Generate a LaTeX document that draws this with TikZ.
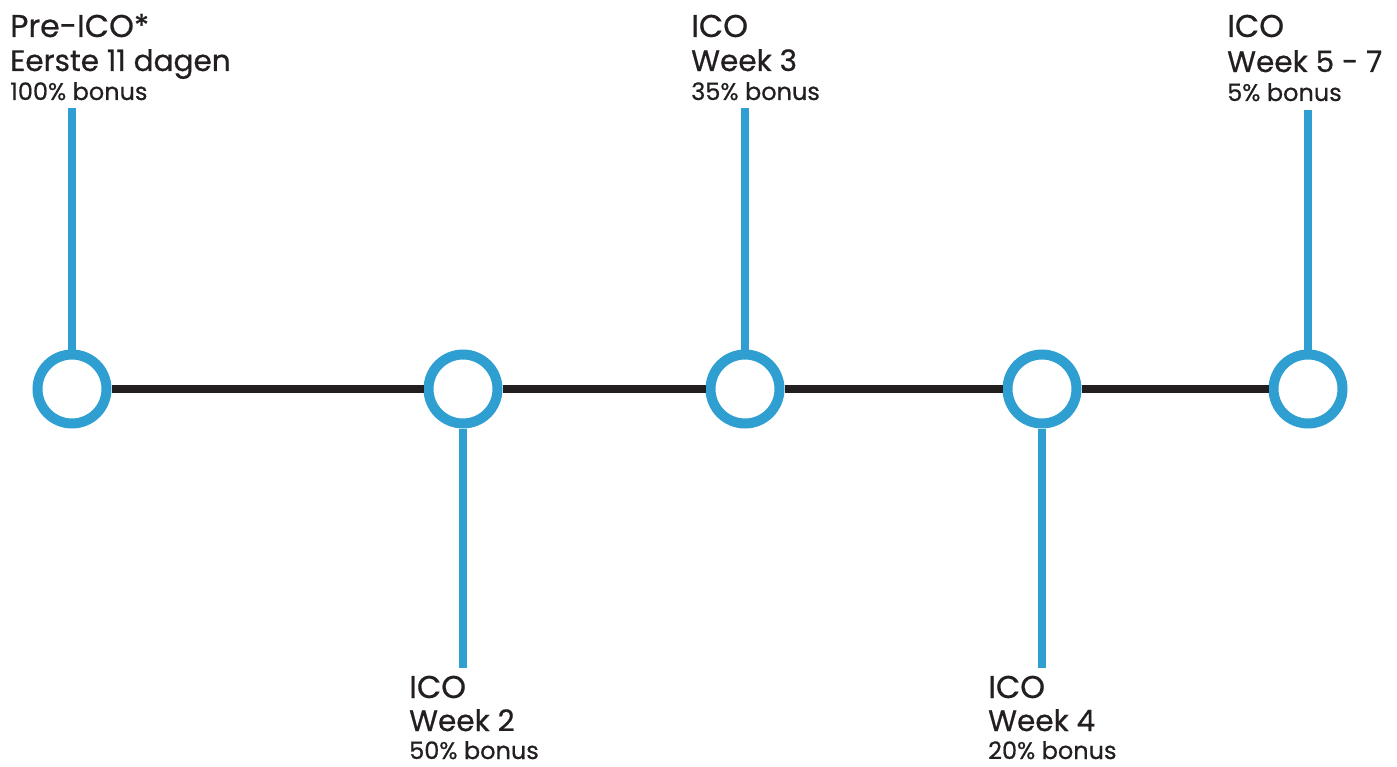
\documentclass[tikz,border=0pt]{standalone}
\usepackage{fontspec}
\setmainfont{Poppins}[FakeBold=0.6]
\definecolor{lineblue}{HTML}{2E9FD0}
\definecolor{lineblack}{HTML}{231F20}
\tikzset{
  stage/.style={circle, draw=lineblue, line width=10pt, minimum size=69pt, inner sep=0pt, fill=white},
  stem/.style={lineblue, line width=8.5pt},
  track/.style={lineblack, line width=8pt},
  head/.style={anchor=base west, inner sep=0pt, text=lineblack, font=\fontsize{31.5}{31.5}\selectfont},
  sub/.style={anchor=base west, inner sep=0pt, text=lineblack, font=\fontsize{29.5}{29.5}\selectfont},
  note/.style={anchor=base west, inner sep=0pt, text=lineblack, font=\fontsize{24}{24}\selectfont}
}
\begin{document}
\begin{tikzpicture}[x=1pt,y=-1pt]
  \useasboundingbox (0,0) rectangle (1397,767);
  % Stages
  \foreach \i/\x in {1/72,2/463,3/745,4/1042,5/1308} {
    \node[stage] (c\i) at (\x,389) {};
  }
  % Timeline
  \foreach \i/\j in {1/2,2/3,3/4,4/5} {
    \draw[track] (c\i) -- (c\j);
  }
  % Stems
  \coordinate (t1) at (72,108);
  \coordinate (t2) at (463,668);
  \coordinate (t3) at (745,108);
  \coordinate (t4) at (1042,668);
  \coordinate (t5) at (1308,110);
  \foreach \i in {1,3,5} {
    \draw[stem] (t\i) -- (c\i.north);
  }
  \foreach \i in {2,4} {
    \draw[stem] (t\i) -- (c\i.south);
  }
  % Labels
  \node[head] (h1) at (10,37) {Pre-ICO*};
  \node[sub] (s1) at (10,71) {Eerste 11 dagen};
  \node[note] (n1) at (10,100) {100\% bonus};
  \node[head] (h2) at (409,698) {ICO};
  \node[sub] (s2) at (409,731) {Week 2};
  \node[note] (n2) at (409,759) {50\% bonus};
  \node[head] (h3) at (691,37) {ICO};
  \node[sub] (s3) at (691,71) {Week 3};
  \node[note] (n3) at (691,100) {35\% bonus};
  \node[head] (h4) at (988,698) {ICO};
  \node[sub] (s4) at (988,731) {Week 4};
  \node[note] (n4) at (988,759) {20\% bonus};
  \node[head] (h5) at (1227,37) {ICO};
  \node[sub] (s5) at (1227,72) {Week 5 - 7};
  \node[note] (n5) at (1227,101) {5\% bonus};
\end{tikzpicture}
\end{document}
